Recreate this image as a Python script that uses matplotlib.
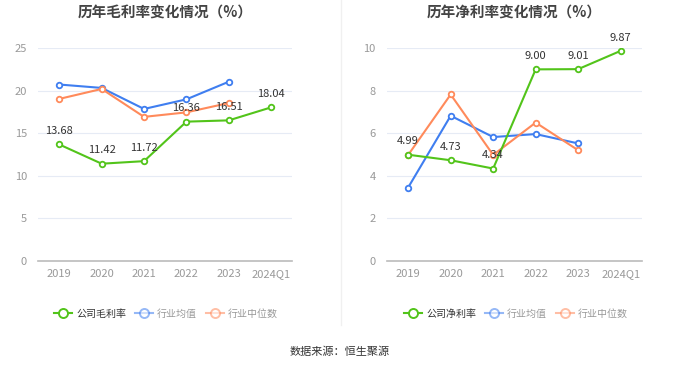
import matplotlib.pyplot as plt
from matplotlib.lines import Line2D

plt.rcParams['font.family'] = ['Noto Sans CJK SC', 'DejaVu Sans']

years = ["2019", "2020", "2021", "2022", "2023", "2024Q1"]

gross_company = [13.68, 11.42, 11.72, 16.36, 16.51, 18.04]
gross_avg = [20.72, 20.32, 17.85, 18.98, 21.05]
gross_median = [19.03, 20.2, 16.92, 17.45, 18.55]

net_company = [4.99, 4.73, 4.34, 9.00, 9.01, 9.87]
net_avg = [3.45, 6.82, 5.82, 5.96, 5.52]
net_median = [4.98, 7.82, 4.98, 6.5, 5.2]

GREEN = "#52c41a"
BLUE = "#3f7ef0"
ORANGE = "#ff8a5b"
GRID = "#e6ebf5"
TICK = "#999999"


def draw_panel(fig, ax, company, avg, median, ymax, ystep, title, company_name, legend_x):
    x = range(len(years))
    for vals, color in [(avg, BLUE), (median, ORANGE), (company, GREEN)]:
        ax.plot(list(x)[:len(vals)], vals, color=color, lw=1.5,
                marker="o", ms=4, mfc="white", mec=color, mew=1.3, zorder=3)
    for i, v in enumerate(company):
        ax.annotate("%.2f" % v, (i, v), xytext=(0, 6), textcoords="offset points",
                    ha="center", va="bottom", fontsize=8, color="#333333", zorder=4)

    ax.set_xlim(-0.5, len(years) - 0.5)
    ax.set_ylim(0, ymax)
    ax.set_yticks(range(0, ymax + 1, ystep))
    ax.set_xticks(list(x))
    ax.set_xticklabels(years)
    ax.grid(axis="y", color=GRID, lw=0.8)
    ax.set_axisbelow(True)
    for s in ["top", "right", "left"]:
        ax.spines[s].set_visible(False)
    ax.spines["bottom"].set_color("#bbbbbb")
    ax.spines["bottom"].set_linewidth(1.2)
    ax.tick_params(axis="both", length=0, labelsize=8, labelcolor=TICK, pad=6)
    ax.tick_params(axis="y", pad=8)
    ax.set_title(title, fontsize=10.5, fontweight="bold", color="#444444", pad=22)

    handles = [
        Line2D([], [], color=GREEN, lw=1.5, marker="o", ms=6.5, mfc="white", mec=GREEN, mew=1.4),
        Line2D([], [], color=BLUE, lw=1.5, marker="o", ms=6.5, mfc="white", mec=BLUE, mew=1.4, alpha=0.55),
        Line2D([], [], color=ORANGE, lw=1.5, marker="o", ms=6.5, mfc="white", mec=ORANGE, mew=1.4, alpha=0.55),
    ]
    leg = fig.legend(handles, [company_name, "行业均值", "行业中位数"], loc="center",
                     bbox_to_anchor=(legend_x, 0.145), ncol=3, frameon=False, fontsize=7.2,
                     handlelength=1.8, handletextpad=0.4, columnspacing=0.9)
    for t, c in zip(leg.get_texts(), ["#333333", TICK, TICK]):
        t.set_color(c)


fig = plt.figure(figsize=(6.8, 3.67), dpi=100)
ax1 = fig.add_axes([0.056, 0.289, 0.374, 0.58])
ax2 = fig.add_axes([0.569, 0.289, 0.375, 0.58])

draw_panel(fig, ax1, gross_company, gross_avg, gross_median, 25, 5,
           "历年毛利率变化情况（%）", "公司毛利率", 166 / 680)
draw_panel(fig, ax2, net_company, net_avg, net_median, 10, 2,
           "历年净利率变化情况（%）", "公司净利率", 516 / 680)

fig.add_artist(Line2D([0.5015, 0.5015], [0.115, 1.0], color="#f0f0f0", lw=1))
fig.text(0.5, 0.041, "数据来源：恒生聚源", ha="center", va="center", fontsize=8, color="#333333")

fig.savefig("out.png", dpi=100, facecolor="white")
